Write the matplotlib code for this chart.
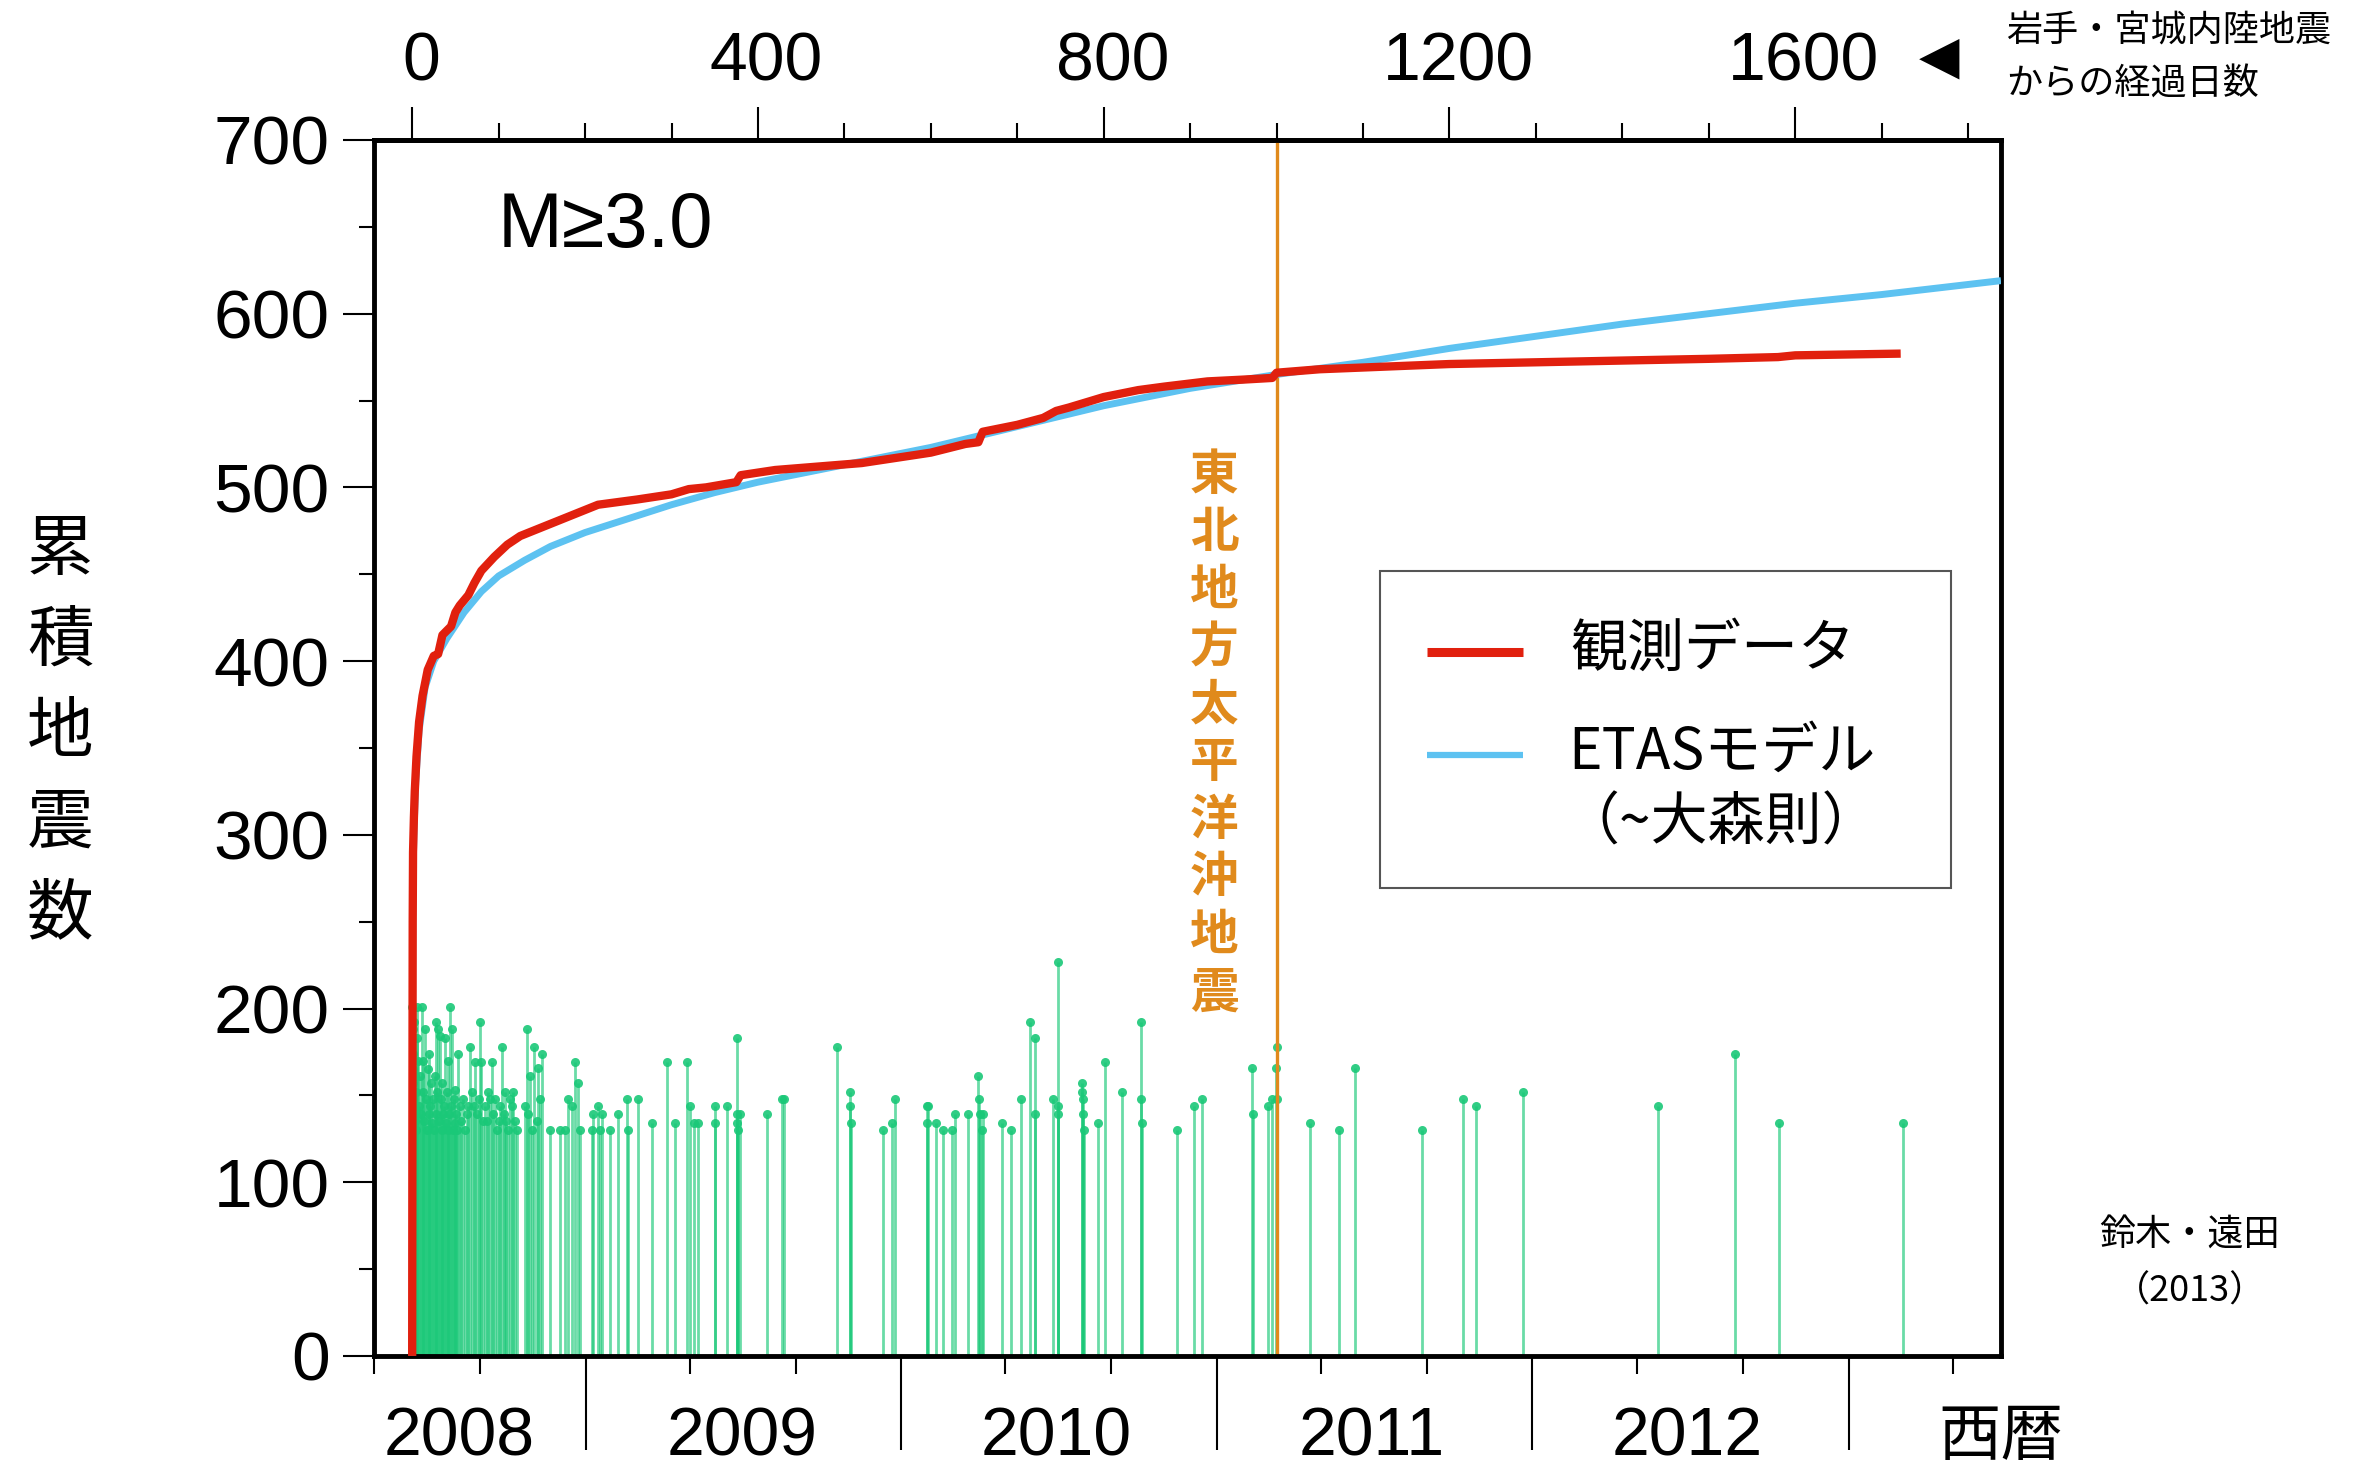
import numpy as np
import matplotlib
matplotlib.use('Agg')
import matplotlib.pyplot as plt
from matplotlib.patches import Rectangle
from matplotlib.transforms import blended_transform_factory

plt.rcParams['font.family'] = ['Liberation Sans', 'Noto Sans CJK JP', 'DejaVu Sans']

# 経過日数 (2008-06-14 岩手・宮城内陸地震 = day 0)
t0 = np.datetime64('2008-06-14')

# 観測データ (累積地震数)
obs_days = [0, 0.3, 0.6, 1, 2, 3, 5, 8, 12, 18, 25, 30, 35, 45, 50, 55, 65, 72, 80, 95,
            110, 125, 145, 170, 200, 215, 230, 260, 300, 320, 340, 375, 380, 420, 470,
            520, 560, 600, 640, 655, 660, 700, 730, 745, 760, 800, 840, 870, 920, 960,
            995, 1000, 1050, 1100, 1200, 1300, 1400, 1500, 1580, 1600, 1722]
obs_count = [0, 150, 250, 290, 310, 325, 345, 365, 380, 395, 403, 404, 415, 420, 428,
             432, 438, 445, 452, 460, 467, 472, 476, 481, 487, 490, 491, 493, 496, 499,
             500, 503, 507, 510, 512, 514, 517, 520, 525, 526, 532, 536, 540, 544, 546,
             552, 556, 558, 561, 562, 563, 566, 568, 569, 571, 572, 573, 574, 575, 576,
             577]

# ETASモデル
etas_days = [0, 0.3, 0.6, 1, 2, 4, 8, 15, 25, 40, 60, 80, 100, 130, 160, 200, 250,
             300, 350, 400, 450, 500, 550, 600, 650, 700, 750, 800, 850, 900, 950,
             1000, 1100, 1200, 1300, 1400, 1500, 1600, 1700, 1838]
etas_count = [0, 150, 240, 280, 300, 330, 360, 385, 400, 413, 428, 440, 449, 458, 466,
              474, 482, 490, 497, 503, 508, 513, 518, 523, 529, 535, 541, 547, 552, 557,
              561, 565, 572, 580, 587, 594, 600, 606, 611, 619]

# 個々の地震 (発生日, 棒の高さ)
eq_days = [0.2, 0.4, 0.6, 0.8, 1.0, 1.3, 1.6, 2.0, 2.5, 3.0, 3.5, 4.0, 4.5, 5.2, 6, 7, 8,
           9, 10, 11, 12, 13, 14, 15, 16, 17, 18, 19, 20, 21, 22, 23, 24, 25, 26, 27, 28,
           29, 30, 31, 32, 33, 34, 35, 36, 37, 38, 39, 40, 41, 42, 43, 44, 45, 46, 47, 48,
           49, 50, 51, 52, 53, 55, 57, 59, 61, 63, 65, 67, 69, 71, 73, 75, 77, 79, 80, 82,
           84, 86, 88, 90, 92, 94, 96, 98, 100, 102, 104, 106, 107, 109, 111, 113, 115,
           117, 119, 121, 130.5, 132.5, 134, 136.3, 138.2, 141.3, 144, 145.9, 147.9,
           149.8, 159.4, 171, 176.8, 180.6, 184.5, 188.4, 191.4, 194.1, 207.6, 209.6,
           215.4, 217.3, 219.2, 228.9, 238.5, 248.1, 249.3, 261.6, 277, 294.4, 304,
           317.5, 321.3, 326.4, 331, 350.3, 350.8, 364, 375.4, 375.8, 376.2, 376.6, 379,
           410, 427.5, 430, 491, 506.6, 507, 507.4, 545, 554.6, 558.5, 595, 596, 597,
           606, 614, 624, 627.9, 643.3, 654, 656, 657, 658.7, 660, 682, 692.7, 704,
           714.6, 720.4, 721, 741.6, 746.6, 747, 747.5, 774.4, 775, 775.5, 776, 777,
           792.9, 801.4, 820.6, 843, 843.5, 844, 884.3, 904.7, 913.2, 971, 973, 990, 995,
           999.5, 1000, 1000.3, 1038.5, 1071.9, 1091, 1168.5, 1216, 1230.5, 1284.7,
           1441, 1529.9, 1581.6, 1725]
eq_height = [201, 188, 174, 165, 157, 148, 139, 192, 144, 161, 135, 152, 130, 201, 183,
             170, 144, 161, 139, 201, 152, 170, 135, 188, 148, 130, 165, 139, 174, 144,
             157, 134, 148, 130, 161, 192, 139, 152, 188, 135, 184, 148, 130, 157, 139,
             144, 183, 134, 152, 130, 170, 139, 201, 144, 188, 130, 148, 153, 134, 139,
             130, 174, 144, 135, 148, 130, 139, 144, 178, 152, 144, 169, 139, 148, 192,
             169, 135, 144, 135, 152, 148, 169, 139, 148, 130, 135, 144, 178, 139, 152,
             135, 130, 148, 144, 152, 135, 130, 144, 188, 139, 161, 130, 178, 135, 166,
             148, 174, 130, 130, 130, 148, 144, 169, 157, 130, 130, 139, 144, 130, 139,
             130, 139, 148, 130, 148, 134, 169, 134, 169, 144, 134, 134, 144, 134, 144,
             183, 139, 134, 130, 139, 139, 148, 148, 178, 152, 144, 134, 130, 134, 148,
             144, 134, 144, 134, 130, 130, 139, 139, 161, 148, 139, 130, 139, 134, 130,
             148, 192, 183, 139, 148, 227, 144, 139, 157, 152, 148, 139, 130, 134, 169,
             152, 192, 148, 134, 130, 144, 148, 166, 139, 144, 148, 166, 178, 148, 134,
             130, 166, 130, 148, 144, 152, 144, 174, 134, 134]

day_ticks = [0, 400, 800, 1200, 1600]
year_labels = ['2008', '2009', '2010', '2011', '2012']
year_label_days = [54, 382, 745, 1110, 1475]
year_starts = ['2009-01-01', '2010-01-01', '2011-01-01', '2012-01-01', '2013-01-01']
month_ticks = ['2008-05-01', '2008-09-01', '2009-05-01', '2009-09-01', '2010-05-01',
               '2010-09-01', '2011-05-01', '2011-09-01', '2012-05-01', '2012-09-01',
               '2013-05-01']
tohoku_day = 1000
ylabel_chars = '累積地震数'
tohoku_chars = '東北地方太平洋沖地震'

def to_days(dates):
    return [(np.datetime64(d) - t0).astype(int) for d in dates]

c_red = '#E1200E'
c_blue = '#5DC2F1'
c_green = '#1AC878'
c_orange = '#E08A1C'

fig = plt.figure(figsize=(23.68, 14.70), dpi=100)
ax = fig.add_axes([0.158, 0.0776, 0.687, 0.8272])

ax.vlines(eq_days, 0, eq_height, colors=c_green, lw=2.0, alpha=0.65, zorder=1)
ax.plot(eq_days, eq_height, 'o', ms=6.5, color=c_green, mec='none', alpha=0.9, zorder=1)
ax.axvline(tohoku_day, color=c_orange, lw=2.4, zorder=2)
ax.plot(etas_days, etas_count, color=c_blue, lw=5, zorder=3, solid_capstyle='butt')
ax.plot(obs_days, obs_count, color=c_red, lw=6, zorder=4, solid_capstyle='butt')

ax.set_xlim(-44, 1838)
ax.set_ylim(0, 700)

for s in ax.spines.values():
    s.set_linewidth(3.5)

# 縦軸
ax.set_yticks(np.arange(0, 701, 100))
ax.set_yticks(np.arange(50, 700, 100), minor=True)
ax.tick_params(axis='y', which='major', direction='out', length=22, width=1.5,
               labelsize=50, pad=10)
ax.tick_params(axis='y', which='minor', direction='out', length=11, width=1.5)

# 横軸 (西暦)
ax.set_xticks(to_days(year_starts))
ax.set_xticks(to_days(month_ticks), minor=True)
ax.tick_params(axis='x', which='major', direction='out', length=68, width=1.5,
               labelbottom=False)
ax.tick_params(axis='x', which='minor', direction='out', length=13, width=1.5)
tr = blended_transform_factory(ax.transData, ax.transAxes)
for lab, d in zip(year_labels, year_label_days):
    ax.text(d, -0.067, lab, transform=tr, ha='center', va='center', fontsize=49)
ax.text(1838, -0.067, '西暦', transform=tr, ha='center', va='center', fontsize=45,
        family=['Noto Sans CJK JP'])

# 上の軸 (経過日数)
top = ax.secondary_xaxis('top')
top.set_xticks(day_ticks)
top.set_xticks(np.arange(100, 1801, 100), minor=True)
top.tick_params(which='major', direction='out', length=24, width=1.5, labeltop=False)
top.tick_params(which='minor', direction='out', length=12, width=1.5)
top.spines['top'].set_linewidth(3.5)
for d in day_ticks:
    ax.text(d + 10, 1.037, str(d), transform=tr, ha='center', va='bottom', fontsize=49)

ax.text(0.076, 0.929, 'M≥3.0', transform=ax.transAxes, fontsize=56, va='center', ha='left')

# 東北地方太平洋沖地震
for i, ch in enumerate(tohoku_chars):
    ax.text(928, 507 - 33.1 * i, ch, ha='center', va='center', fontsize=35,
            fontweight='bold', color=c_orange, family=['Noto Sans CJK JP'], zorder=5)

# 凡例
ax.add_patch(Rectangle((0.618, 0.385), 0.351, 0.2606, transform=ax.transAxes,
                       facecolor='white', edgecolor='#555555', lw=1.5, zorder=6))
ax.plot([0.647, 0.706], [0.579, 0.579], transform=ax.transAxes, color=c_red, lw=6.5,
        zorder=7, solid_capstyle='butt')
ax.plot([0.647, 0.706], [0.494, 0.494], transform=ax.transAxes, color=c_blue, lw=4.5,
        zorder=7, solid_capstyle='butt')
ax.text(0.7355, 0.581, '観測データ', transform=ax.transAxes, fontsize=41, va='center',
        ha='left', zorder=7, family=['Noto Sans CJK JP'])
ax.text(0.734, 0.496, 'ETASモデル', transform=ax.transAxes, fontsize=41, va='center',
        ha='left', zorder=7, family=['Noto Sans CJK JP'])
ax.text(0.828, 0.438, '（~大森則）', transform=ax.transAxes, fontsize=41, va='center',
        ha='center', zorder=7, family=['Noto Sans CJK JP'])

# 縦軸ラベル
for i, ch in enumerate(ylabel_chars):
    fig.text(0.0255, 0.6249 - 0.0617 * i, ch, ha='center', va='center', fontsize=48,
             family=['Noto Sans CJK JP'])

# 右上・右下の注記
fig.text(0.8189, 0.961, '◀', ha='center', va='center', fontsize=38,
         family=['DejaVu Sans'])
fig.text(0.847, 0.9794, '岩手・宮城内陸地震', ha='left', va='center', fontsize=26,
         family=['Noto Sans CJK JP'])
fig.text(0.847, 0.9424, 'からの経過日数', ha='left', va='center', fontsize=26,
         family=['Noto Sans CJK JP'])
fig.text(0.9247, 0.1593, '鈴木・遠田', ha='center', va='center', fontsize=26,
         family=['Noto Sans CJK JP'])
fig.text(0.9247, 0.1213, '（2013）', ha='center', va='center', fontsize=26,
         family=['Noto Sans CJK JP'])

fig.savefig('out.png', dpi=100, facecolor='white')
